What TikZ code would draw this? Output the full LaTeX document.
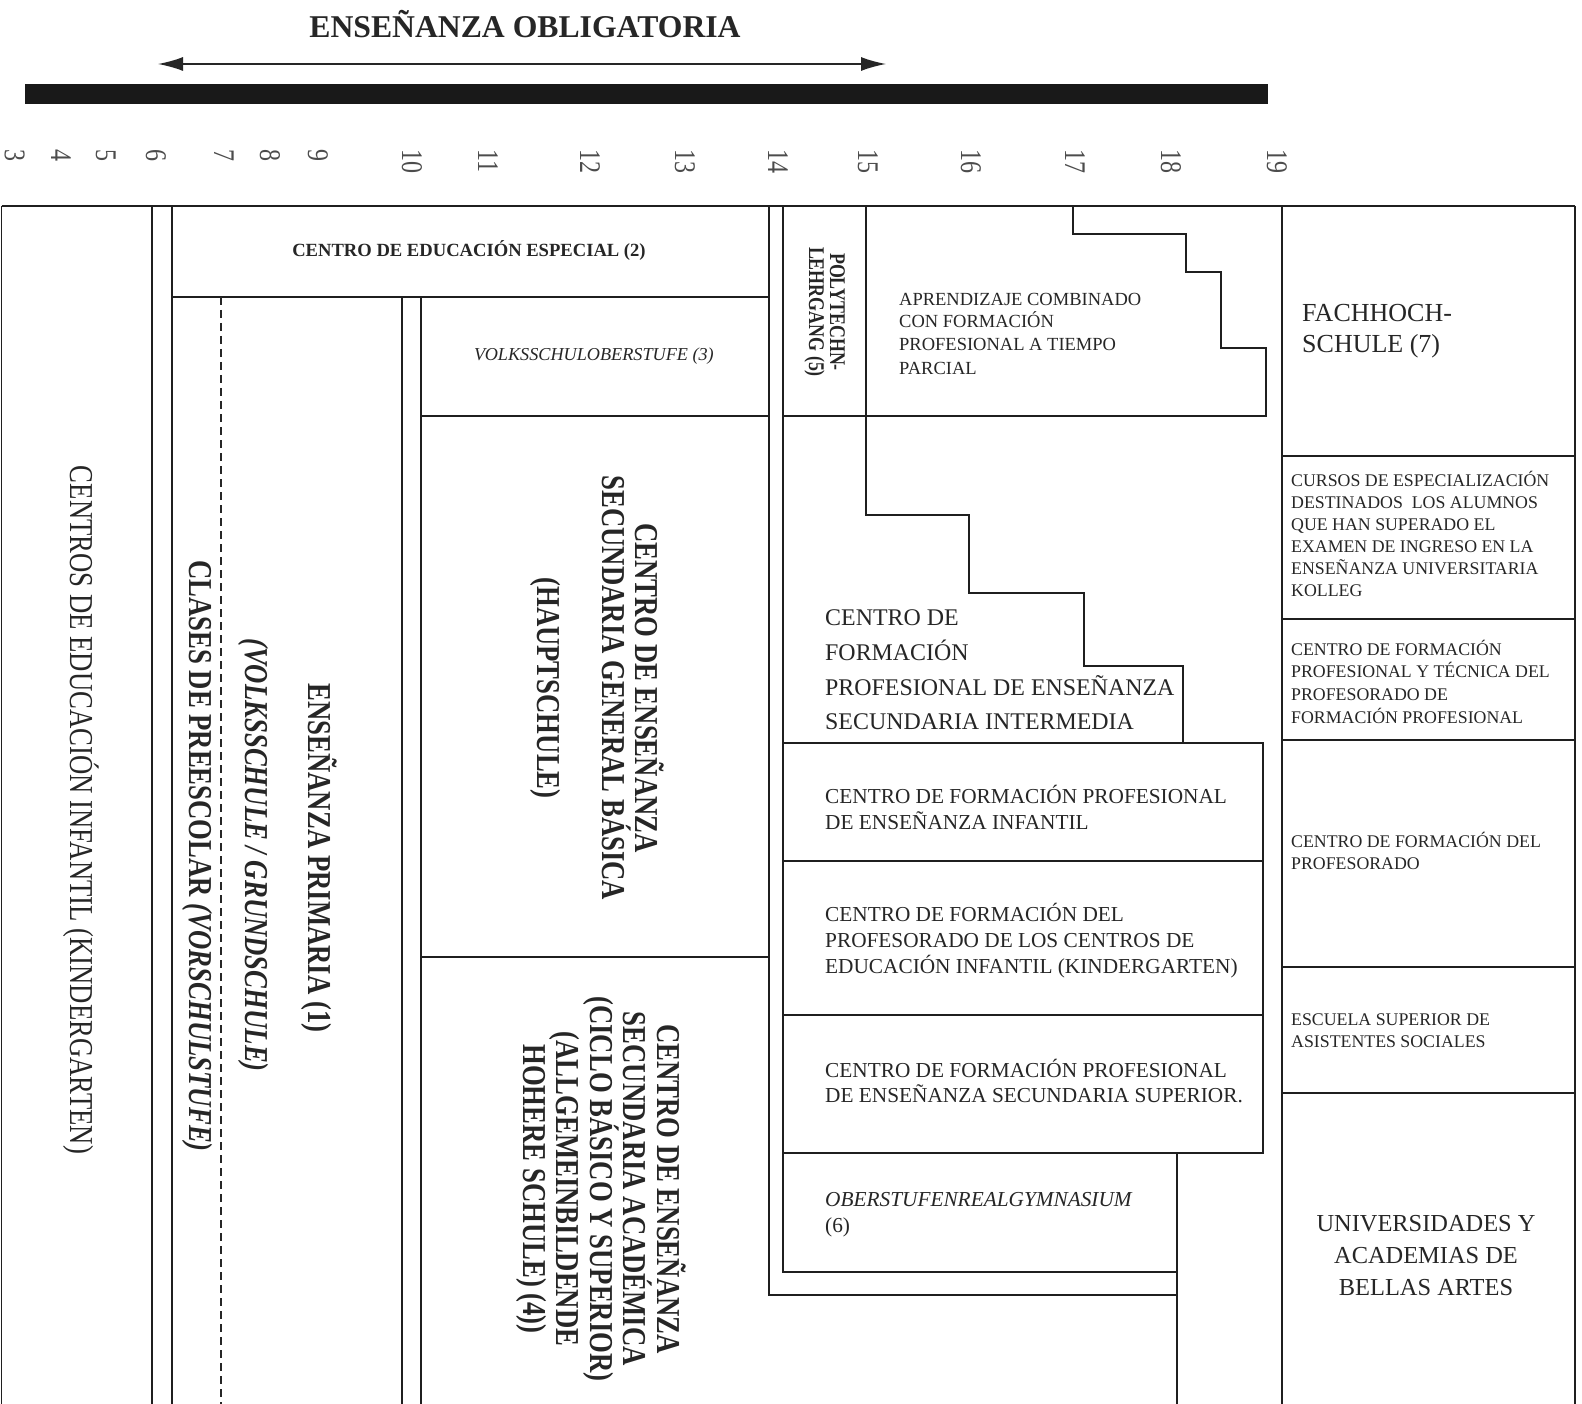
\documentclass[tikz,border=0pt]{standalone}
\usepackage{fontspec}
\setmainfont{Liberation Serif}
\newfontfamily\rotf[FakeStretch=0.8]{Liberation Serif}
\usetikzlibrary{arrows.meta}
\newcommand\fsz[1]{\fontsize{#1}{#1}\selectfont}
\begin{document}
\begin{tikzpicture}[x=1pt,y=-1pt,
  ln/.style={line width=1.8pt,draw=black!88},
  txt/.style={inner sep=0pt,text=black!85},
  hl/.style={txt,anchor=base west},
  rot/.style={txt,rotate=-90,anchor=base},
  age/.style={txt,rotate=-90,anchor=base west,font=\rotf\fsz{30},text=black!70},
  sm/.style={hl,font=\fsz{17.8}},
  md/.style={hl,font=\fsz{21.3}},
  rbig/.style={rot,font=\rotf\bfseries\fsz{33.4}}]
\useasboundingbox (0,0) rectangle (1582,1404);
\fill[white] (0,0) rectangle (1582,1404);

% title, arrow, bar
\node[txt,anchor=base,font=\bfseries\fsz{31.7}] (title) at (525,38) {ENSEÑANZA OBLIGATORIA};
\coordinate (aL) at (158,64);
\coordinate (aR) at (886,64);
\draw[line width=1.6pt,draw=black!85,{Latex[length=25pt,width=14pt]}-{Latex[length=25pt,width=14pt]}] (aL) -- (aR);
\fill[black!90] (25,84) rectangle (1268,104);

% ages
\foreach \a/\x in {3/15,4/61,5/106,6/156,7/224,8/270,9/318,10/412,11/488,12/590,13/685,14/778,15/868,16/971,17/1075,18/1171,19/1277}
  \node[age] (age\a) at (\x-10,149) {\a};

% grid lines
\draw[ln] (1.5,206) -- (1575,206);
\draw[ln] (1.5,206) -- (1.5,1404);
\draw[ln] (152,206) -- (152,1404);
\draw[ln] (172,206) -- (172,1404);
\draw[ln] (172,297) -- (769,297);
\draw[line width=1.4pt,draw=black!85,dash pattern=on 8pt off 5pt] (221,297) -- (221,1404);
\draw[ln] (402,297) -- (402,1404);
\draw[ln] (421,297) -- (421,1404);
\draw[ln] (421,416) -- (769,416);
\draw[ln] (421,957) -- (769,957);
\draw[ln] (769,206) -- (769,1295) -- (1177,1295);
\draw[ln] (783,206) -- (783,1272) -- (1177,1272);
\draw[ln] (1177,1153) -- (1177,1404);
\draw[ln] (866,206) -- (866,515) -- (969,515) -- (969,593) -- (1084,593) -- (1084,666) -- (1183,666) -- (1183,743);
\draw[ln] (1073,206) -- (1073,234) -- (1186,234) -- (1186,272) -- (1221,272) -- (1221,348) -- (1266,348) -- (1266,416) -- (783,416);
\draw[ln] (783,743) -- (1263,743) -- (1263,1153) -- (783,1153);
\draw[ln] (783,861) -- (1263,861);
\draw[ln] (783,1015) -- (1263,1015);
\draw[ln] (1282,206) -- (1282,1404);
\draw[ln] (1575,206) -- (1575,1404);
\foreach \yy in {456,619,740,967,1093} \draw[ln] (1282,\yy) -- (1575,\yy);

% rotated texts
\node[rot,font=\rotf\fsz{33.4}] (kg) at (70,810) {CENTROS DE EDUCACIÓN INFANTIL (KINDERGARTEN)};
\node[rbig] (clases) at (189,856) {CLASES DE PREESCOLAR \textit{(VORSCHULSTUFE)}};
\node[rbig,font=\rotf\bfseries\itshape\fsz{33.4}] (volksg) at (245,855) {(VOLKSSCHULE / GRUNDSCHULE)};
\node[rbig] (prim) at (308,858) {ENSEÑANZA PRIMARIA (1)};
\node[rbig] (hs1) at (635,688) {CENTRO DE ENSEÑANZA};
\node[rbig] (hs2) at (602.5,688) {SECUNDARIA GENERAL BÁSICA};
\node[rbig] (hs3) at (537.5,688) {(HAUPTSCHULE)};
\node[rbig] (ac1) at (657,1189) {CENTRO DE ENSEÑANZA};
\node[rbig] (ac2) at (623.5,1189) {SECUNDARIA ACADÉMICA};
\node[rbig] (ac3) at (590,1189) {(CICLO BÁSICO Y SUPERIOR)};
\node[rbig] (ac4) at (556.5,1189) {(ALLGEMEINBILDENDE};
\node[rbig] (ac5) at (523,1189) {HOHERE SCHULE) (4))};
\node[rot,font=\rotf\bfseries\fsz{22.4}] (poly1) at (830,312) {POLYTECHN-};
\node[rot,font=\rotf\bfseries\fsz{22.4}] (poly2) at (809,312) {LEHRGANG (5)};

% horizontal texts
\node[txt,anchor=base,font=\bfseries\fsz{18.6}] (esp) at (469,257) {CENTRO DE EDUCACIÓN ESPECIAL (2)};
\node[txt,anchor=base,font=\itshape\fsz{18.2}] (volks) at (594,361) {VOLKSSCHULOBERSTUFE (3)};

\node[hl,font=\fsz{18.5}] (ap1) at (899,306) {APRENDIZAJE COMBINADO};
\node[hl,font=\fsz{18.5}] (ap2) at (899,328) {CON FORMACIÓN};
\node[hl,font=\fsz{18.5}] (ap3) at (899,351) {PROFESIONAL A TIEMPO};
\node[hl,font=\fsz{18.5}] (ap4) at (899,374) {PARCIAL};

\node[hl,font=\fsz{23.9}] (im1) at (825,625) {CENTRO DE};
\node[hl,font=\fsz{23.9}] (im2) at (825,660) {FORMACIÓN};
\node[hl,font=\fsz{23.9}] (im3) at (825,695) {PROFESIONAL DE ENSEÑANZA};
\node[hl,font=\fsz{23.9}] (im4) at (825,729) {SECUNDARIA INTERMEDIA};

\node[md] (in1) at (825,803) {CENTRO DE FORMACIÓN PROFESIONAL};
\node[md] (in2) at (825,829) {DE ENSEÑANZA INFANTIL};
\node[md] (kp1) at (825,921) {CENTRO DE FORMACIÓN DEL};
\node[md] (kp2) at (825,947) {PROFESORADO DE LOS CENTROS DE};
\node[md] (kp3) at (825,973) {EDUCACIÓN INFANTIL (KINDERGARTEN)};
\node[md] (su1) at (825,1077) {CENTRO DE FORMACIÓN PROFESIONAL};
\node[md] (su2) at (825,1102) {DE ENSEÑANZA SECUNDARIA SUPERIOR.};
\node[md,font=\itshape\fsz{21.3}] (ob1) at (825,1206) {OBERSTUFENREALGYMNASIUM};
\node[md] (ob2) at (825,1232) {(6)};

\node[hl,font=\fsz{26}] (fh1) at (1302,322) {FACHHOCH-};
\node[hl,font=\fsz{26}] (fh2) at (1302,353) {SCHULE (7)};
\node[sm] (cu1) at (1291,486) {CURSOS DE ESPECIALIZACIÓN};
\node[sm] (cu2) at (1291,508) {DESTINADOS~ LOS ALUMNOS};
\node[sm] (cu3) at (1291,530) {QUE HAN SUPERADO EL};
\node[sm] (cu4) at (1291,552) {EXAMEN DE INGRESO EN LA};
\node[sm] (cu5) at (1291,574) {ENSEÑANZA UNIVERSITARIA};
\node[sm] (cu6) at (1291,596) {KOLLEG};
\node[sm] (ct1) at (1291,655) {CENTRO DE FORMACIÓN};
\node[sm] (ct2) at (1291,677) {PROFESIONAL Y TÉCNICA DEL};
\node[sm] (ct3) at (1291,700) {PROFESORADO DE};
\node[sm] (ct4) at (1291,723) {FORMACIÓN PROFESIONAL};
\node[sm] (cp1) at (1291,847) {CENTRO DE FORMACIÓN DEL};
\node[sm] (cp2) at (1291,869) {PROFESORADO};
\node[sm] (es1) at (1291,1025) {ESCUELA SUPERIOR DE};
\node[sm] (es2) at (1291,1047) {ASISTENTES SOCIALES};
\node[txt,anchor=base,font=\fsz{24.4}] (un1) at (1426,1231) {UNIVERSIDADES Y};
\node[txt,anchor=base,font=\fsz{24.4}] (un2) at (1426,1263) {ACADEMIAS DE};
\node[txt,anchor=base,font=\fsz{24.4}] (un3) at (1426,1295) {BELLAS ARTES};
\end{tikzpicture}
\end{document}
